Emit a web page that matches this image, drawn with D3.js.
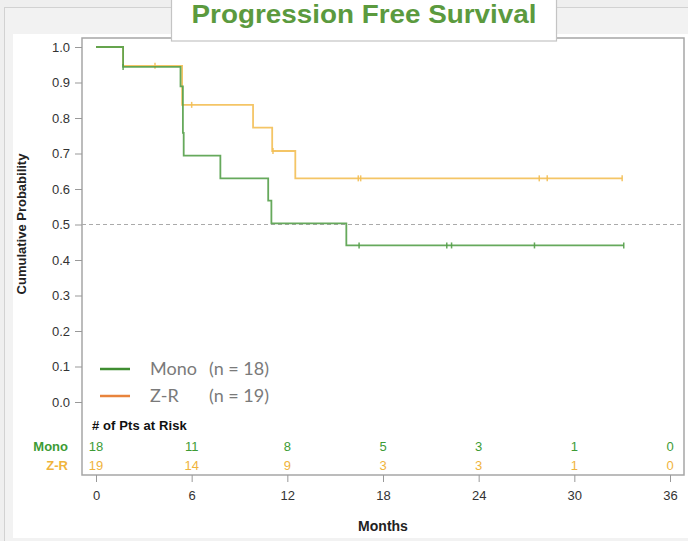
<!DOCTYPE html>
<html><head><meta charset="utf-8">
<script src="https://cdn.jsdelivr.net/npm/d3@7/dist/d3.min.js"></script>
<style>html,body{margin:0;padding:0;background:#efefef;}svg{display:block;}</style>
</head><body>
<script>
// ---- data ----
const monoTimes = [0, 1.7, 5.3, 5.45, 5.5, 7.8, 10.8, 11.0, 15.7, 33.1];
const monoSurv  = [1.0, 0.944, 0.889, 0.758, 0.694, 0.630, 0.567, 0.503, 0.441, 0.441];
const monoCensor = [1.7, 16.5, 22.0, 22.3, 27.5, 33.1];
const zrTimes = [0, 1.7, 5.4, 9.85, 11.05, 12.5, 33.0];
const zrSurv  = [1.0, 0.947, 0.837, 0.773, 0.707, 0.630, 0.630];
const zrCensor = [3.7, 6.0, 11.1, 16.45, 16.6, 27.8, 28.3, 33.0];
const yTicks = [0, 0.1, 0.2, 0.3, 0.4, 0.5, 0.6, 0.7, 0.8, 0.9, 1.0];
const xTicks = [0, 6, 12, 18, 24, 30, 36];
const riskMono = [18, 11, 8, 5, 3, 1, 0];
const riskZR   = [19, 14, 9, 3, 3, 1, 0];
const seriesNames = ["Mono", "Z-R"];
const legendN = ["(n = 18)", "(n = 19)"];

const W = 688, H = 541;
const green = "#55a04a", orange = "#f3bf55";
const FONT = "Liberation Sans, Arial";
const svg = d3.select("body").append("svg").attr("width", W).attr("height", H);

// background panels
svg.append("rect").attr("x", 4.5).attr("y", 7.5).attr("width", W).attr("height", H - 4)
  .attr("fill", "#f2f2f2").attr("stroke", "#d2d2d2");
svg.append("rect").attr("x", 13).attr("y", 34).attr("width", W - 13).attr("height", 504).attr("fill", "#fff");

const x = d3.scaleLinear().domain([0, 36]).range([96, 670]);
const y = d3.scaleLinear().domain([0, 1]).range([402, 47]);
const frame = {l: 82, t: 38, r: 684, b: 475};

// frame
svg.append("rect").attr("x", frame.l).attr("y", frame.t).attr("width", frame.r - frame.l)
  .attr("height", frame.b - frame.t).attr("fill", "none").attr("stroke", "#a6a6a6").attr("stroke-width", 1.5);

// y axis
const yAxis = d3.axisLeft(y).tickValues(yTicks).tickFormat(d3.format(".1f")).tickSize(7).tickSizeOuter(0);
const yg = svg.append("g").attr("transform", `translate(${frame.l},0)`).call(yAxis);
yg.select(".domain").remove();
yg.selectAll("line").attr("stroke", "#999");
yg.selectAll("text").attr("font-family", FONT).attr("font-size", 13).attr("fill", "#333").attr("dx", -2);

// x axis
const xAxis = d3.axisBottom(x).tickValues(xTicks).tickSize(7).tickSizeOuter(0);
const xg = svg.append("g").attr("transform", `translate(0,${frame.b})`).call(xAxis);
xg.select(".domain").remove();
xg.selectAll("line").attr("stroke", "#999");
xg.selectAll("text").attr("font-family", FONT).attr("font-size", 13).attr("fill", "#333").attr("dy", "1.15em");

// axis titles
svg.append("text").attr("transform", "translate(26,224) rotate(-90)").attr("text-anchor", "middle")
  .attr("font-family", FONT).attr("font-weight", "bold").attr("font-size", 13).attr("fill", "#222")
  .text("Cumulative Probability");
svg.append("text").attr("x", x(18)).attr("y", 531).attr("text-anchor", "middle")
  .attr("font-family", FONT).attr("font-weight", "bold").attr("font-size", 14).attr("fill", "#222")
  .text("Months");

// reference line at 0.5
svg.append("line").attr("x1", frame.l).attr("x2", frame.r).attr("y1", y(0.5)).attr("y2", y(0.5))
  .attr("stroke", "#aaa").attr("stroke-width", 1.2).attr("stroke-dasharray", "4,3");

// curves
function stepLine(times, surv) {
  const pts = times.map((t, i) => [t, surv[i]]);
  return d3.line().x(d => x(d[0])).y(d => y(d[1])).curve(d3.curveStepAfter)(pts);
}
function survAt(times, surv, t) {
  let s = surv[0];
  for (let i = 0; i < times.length; i++) if (times[i] <= t) s = surv[i];
  return s;
}
const series = [
  {times: zrTimes, surv: zrSurv, cens: zrCensor, color: orange},
  {times: monoTimes, surv: monoSurv, cens: monoCensor, color: green}
];
series.forEach(s => {
  svg.append("path").attr("d", stepLine(s.times, s.surv)).attr("fill", "none")
    .attr("stroke", s.color).attr("stroke-width", 1.8).attr("opacity", 0.9);
  svg.selectAll(null).data(s.cens).enter().append("line")
    .attr("x1", d => x(d)).attr("x2", d => x(d))
    .attr("y1", d => y(survAt(s.times, s.surv, d)) - 3)
    .attr("y2", d => y(survAt(s.times, s.surv, d)) + 3)
    .attr("stroke", s.color).attr("stroke-width", 1.5).attr("opacity", 0.9);
});

// legend
const legColors = ["#3f8d31", "#e8843c"];
const legY = [369, 396];
seriesNames.forEach((n, i) => {
  svg.append("line").attr("x1", 100).attr("x2", 130).attr("y1", legY[i]).attr("y2", legY[i])
    .attr("stroke", legColors[i]).attr("stroke-width", 2.5);
  svg.append("text").attr("x", 150).attr("y", legY[i] + 6).attr("font-family", "Lato, Open Sans")
    .attr("font-size", 18).attr("fill", "#7a7a7a").text(n);
  svg.append("text").attr("x", 209).attr("y", legY[i] + 6).attr("font-family", "Lato, Open Sans")
    .attr("font-size", 18).attr("fill", "#7a7a7a").text(legendN[i]);
});

// risk table
svg.append("text").attr("x", 92).attr("y", 430).attr("font-family", FONT)
  .attr("font-weight", "bold").attr("font-size", 13).attr("fill", "#111").attr("letter-spacing", 0.1)
  .text("# of Pts at Risk");
const riskRows = [{name: "Mono", vals: riskMono, color: "#3d9b35", y: 451},
                  {name: "Z-R", vals: riskZR, color: "#f0b43c", y: 470}];
riskRows.forEach(r => {
  svg.append("text").attr("x", 68).attr("y", r.y).attr("text-anchor", "end")
    .attr("font-family", FONT).attr("font-weight", "bold").attr("font-size", 13)
    .attr("fill", r.color).text(r.name);
  svg.selectAll(null).data(r.vals).enter().append("text")
    .attr("x", (d, i) => x(xTicks[i])).attr("y", r.y).attr("text-anchor", "middle")
    .attr("font-family", FONT).attr("font-size", 13).attr("fill", r.color)
    .text(d => d);
});

// title box
svg.append("rect").attr("x", 171.5).attr("y", -2).attr("width", 385).attr("height", 43)
  .attr("fill", "#fff").attr("stroke", "#c4c4c4").attr("stroke-width", 1.2);
svg.append("text").attr("x", 364).attr("y", 23).attr("text-anchor", "middle")
  .attr("font-family", FONT).attr("font-weight", "bold").attr("font-size", 25)
  .attr("textLength", 345).attr("lengthAdjust", "spacingAndGlyphs")
  .attr("fill", "#5b9a3e").text("Progression Free Survival");
</script>
</body></html>
